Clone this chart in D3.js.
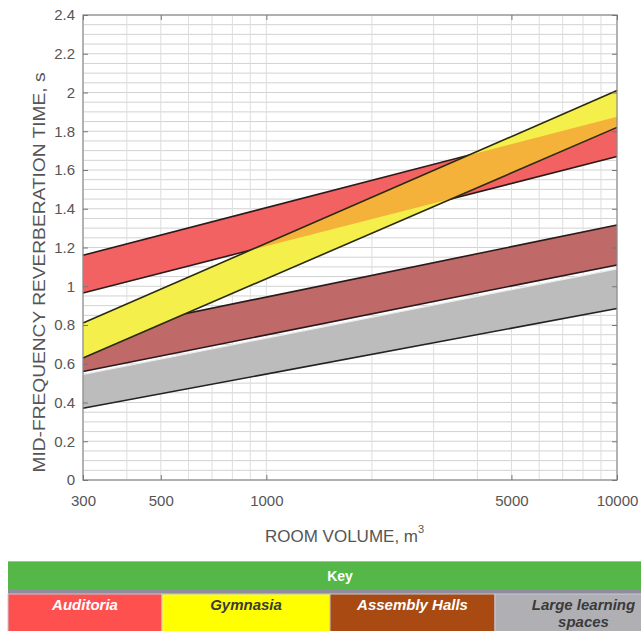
<!DOCTYPE html>
<html>
<head>
<meta charset="utf-8">
<script src="https://cdn.jsdelivr.net/npm/d3@7"></script>
<style>
  html, body { margin: 0; padding: 0; background: #fff; overflow: hidden; }
  svg { display: block; }
</style>
</head>
<body>
<div id="chart"></div>
<script>
// Room volume at the two ends of every band (m3)
const volumes = [300, 10000];

// Reverberation time (s) at 300 and 10000 m3, lower and upper edge of each band
const learningLow = [0.37, 0.885];
const learningHigh = [0.545, 1.09];
const assemblyLow = [0.56, 1.11];
const assemblyHigh = [0.75, 1.316];
const auditoriaLow = [0.965, 1.67];
const auditoriaHigh = [1.16, 1.875];
const gymnasiaLow = [0.63, 1.82];
const gymnasiaHigh = [0.81, 2.01];

const yTickValues = [0, 0.2, 0.4, 0.6, 0.8, 1, 1.2, 1.4, 1.6, 1.8, 2, 2.2, 2.4];
const yTickLabels = ['0', '0.2', '0.4', '0.6', '0.8', '1', '1.2', '1.4', '1.6', '1.8', '2', '2.2', '2.4'];
const xTickValues = [300, 500, 1000, 5000, 10000];
const xTickLabels = ['300', '500', '1000', '5000', '10000'];

const keyTitle = 'Key';
const keyLabels = ['Auditoria', 'Gymnasia', 'Assembly Halls', 'Large learning spaces'];

function buildBand(low, high) {
    return volumes.map((v, i) => ({ volume: v, low: low[i], high: high[i] }));
}

function drawChart() {
    const width = 641, height = 631;
    const plot = { left: 83, right: 617, top: 15, bottom: 480 };

    const svg = d3.select('#chart').append('svg')
        .attr('width', width).attr('height', height);

    const x = d3.scaleLog().domain([300, 10000]).range([plot.left, plot.right]);
    const y = d3.scaleLinear().domain([0, 2.4]).range([plot.bottom, plot.top]);

    // Gridlines: fine horizontal every 0.05, log decades vertically
    const grid = svg.append('g');
    grid.selectAll('line.h').data(d3.range(0, 2.4001, 0.05)).join('line')
        .attr('x1', plot.left).attr('x2', plot.right)
        .attr('y1', d => y(d)).attr('y2', d => y(d))
        .attr('stroke', '#d2d2d2').attr('stroke-width', 1);
    grid.selectAll('line.v').data(x.ticks()).join('line')
        .attr('x1', d => x(d)).attr('x2', d => x(d))
        .attr('y1', plot.top).attr('y2', plot.bottom)
        .attr('stroke', '#dedede').attr('stroke-width', 1);

    const area = d3.area()
        .x(d => x(d.volume))
        .y0(d => y(d.low))
        .y1(d => y(d.high));
    const lowLine = d3.line().x(d => x(d.volume)).y(d => y(d.low));
    const highLine = d3.line().x(d => x(d.volume)).y(d => y(d.high));

    const learning = buildBand(learningLow, learningHigh);
    const assembly = buildBand(assemblyLow, assemblyHigh);
    const auditoria = buildBand(auditoriaLow, auditoriaHigh);
    const gymnasia = buildBand(gymnasiaLow, gymnasiaHigh);

    const bands = svg.append('g');

    // Large learning spaces
    bands.append('path').datum(learning).attr('d', area).attr('fill', '#bcbcbc');
    bands.append('path').datum(learning).attr('d', lowLine).attr('fill', 'none').attr('stroke', '#222').attr('stroke-width', 1.6);
    bands.append('path').datum(learning).attr('d', highLine).attr('fill', 'none').attr('stroke', '#ececec').attr('stroke-width', 1.2);

    // Assembly halls
    bands.append('path').datum(assembly).attr('d', area).attr('fill', '#bf6968');
    bands.append('path').datum(assembly).attr('d', lowLine).attr('fill', 'none').attr('stroke', '#2a1a1a').attr('stroke-width', 1.6);
    bands.append('path').datum(assembly).attr('d', highLine).attr('fill', 'none').attr('stroke', '#2a1a1a').attr('stroke-width', 1.6);

    // Auditoria
    bands.append('path').datum(auditoria).attr('d', area).attr('fill', '#f26262');
    bands.append('path').datum(auditoria).attr('d', lowLine).attr('fill', 'none').attr('stroke', '#2a1a1a').attr('stroke-width', 1.6);
    bands.append('path').datum(auditoria).attr('d', highLine).attr('fill', 'none').attr('stroke', '#2a1a1a').attr('stroke-width', 1.6);

    // Gymnasia, with the overlap on auditoria shown in orange
    svg.append('clipPath').attr('id', 'auditoria-clip')
        .append('path').datum(auditoria).attr('d', area);
    bands.append('path').datum(gymnasia).attr('d', area).attr('fill', '#f5ef4c');
    bands.append('path').datum(gymnasia).attr('d', area).attr('fill', '#f5b23a')
        .attr('clip-path', 'url(#auditoria-clip)');
    bands.append('path').datum(gymnasia).attr('d', lowLine).attr('fill', 'none').attr('stroke', '#2a2a10').attr('stroke-width', 1.6);
    bands.append('path').datum(gymnasia).attr('d', highLine).attr('fill', 'none').attr('stroke', '#2a2a10').attr('stroke-width', 1.6);

    // Frame
    svg.append('rect')
        .attr('x', plot.left).attr('y', plot.top)
        .attr('width', plot.right - plot.left).attr('height', plot.bottom - plot.top)
        .attr('fill', 'none').attr('stroke', '#8a8a8a').attr('stroke-width', 1.2);

    // Axes
    svg.append('g')
        .attr('transform', `translate(${plot.left},0)`)
        .call(d3.axisLeft(y).tickValues(yTickValues).tickSize(-5).tickPadding(8)
            .tickFormat((d, i) => yTickLabels[i]));
    svg.append('g')
        .attr('transform', `translate(0,${plot.bottom})`)
        .call(d3.axisBottom(x).tickValues(xTickValues).tickSize(-5).tickPadding(15)
            .tickFormat((d, i) => xTickLabels[i]));
    svg.append('g')
        .attr('transform', `translate(${plot.right},0)`)
        .call(d3.axisRight(y).tickValues(yTickValues).tickSize(-5).tickFormat(''));
    svg.append('g')
        .attr('transform', `translate(0,${plot.top})`)
        .call(d3.axisTop(x).tickValues(xTickValues).tickSize(-5).tickFormat(''));

    svg.selectAll('.domain').remove();
    svg.selectAll('.tick line').attr('stroke', '#777');
    svg.selectAll('.tick text')
        .attr('fill', '#555')
        .style('font-family', '"Liberation Sans", Arial, sans-serif')
        .style('font-size', '15px');

    // Axis titles
    svg.append('text')
        .attr('transform', `translate(45,${(plot.top + plot.bottom) / 2 + 25}) rotate(-90)`)
        .attr('text-anchor', 'middle')
        .attr('textLength', 400).attr('lengthAdjust', 'spacingAndGlyphs')
        .style('font-family', '"Liberation Sans", Arial, sans-serif')
        .style('font-size', '17px').attr('fill', '#555')
        .text('MID-FREQUENCY REVERBERATION TIME, s');

    const xTitle = svg.append('text')
        .attr('x', 265).attr('y', 542)
        .style('font-family', '"Liberation Sans", Arial, sans-serif')
        .style('font-size', '17px').attr('fill', '#555');
    xTitle.append('tspan').text('ROOM VOLUME, m');
    xTitle.append('tspan').attr('dy', -9).style('font-size', '11px').text('3');

    // Key table below the chart
    const keyLeft = 8, keyRight = 672;
    const keyEdges = [8, 162, 330, 495, 672];
    const keyFills = ['#ff5050', '#ffff00', '#a84a12', '#b0b0b4'];
    const keyText = ['#ffffff', '#3a3a3a', '#ffffff', '#3a3a3a'];
    const key = svg.append('g');

    key.append('line').attr('x1', keyLeft).attr('x2', keyRight).attr('y1', 561.5).attr('y2', 561.5)
        .attr('stroke', '#b5b5b5');
    key.append('rect').attr('x', keyLeft).attr('y', 562).attr('width', keyRight - keyLeft).attr('height', 28)
        .attr('fill', '#55b748');
    key.append('rect').attr('x', keyLeft).attr('y', 590).attr('width', keyRight - keyLeft).attr('height', 4)
        .attr('fill', '#8d8d9c');
    key.append('text').attr('x', (keyLeft + keyRight) / 2).attr('y', 581)
        .attr('text-anchor', 'middle').attr('fill', '#fff')
        .style('font-family', '"Liberation Sans", Arial, sans-serif')
        .style('font-size', '14px').style('font-weight', 'bold')
        .text(keyTitle);

    keyLabels.forEach((label, i) => {
        const x0 = keyEdges[i], x1 = keyEdges[i + 1];
        key.append('rect').attr('x', x0).attr('y', 594).attr('width', x1 - x0).attr('height', 40)
            .attr('fill', keyFills[i]).attr('stroke', '#c8c8d8').attr('stroke-width', 1);
        const t = key.append('text').attr('text-anchor', 'middle').attr('fill', keyText[i])
            .style('font-family', '"Liberation Sans", Arial, sans-serif')
            .style('font-size', '15px').style('font-weight', 'bold').style('font-style', 'italic');
        const words = label === 'Large learning spaces' ? ['Large learning', 'spaces'] : [label];
        words.forEach((w, j) => {
            t.append('tspan').attr('x', (x0 + x1) / 2).attr('y', 610 + j * 17).text(w);
        });
    });
}

document.addEventListener('DOMContentLoaded', drawChart);
</script>
</body>
</html>
